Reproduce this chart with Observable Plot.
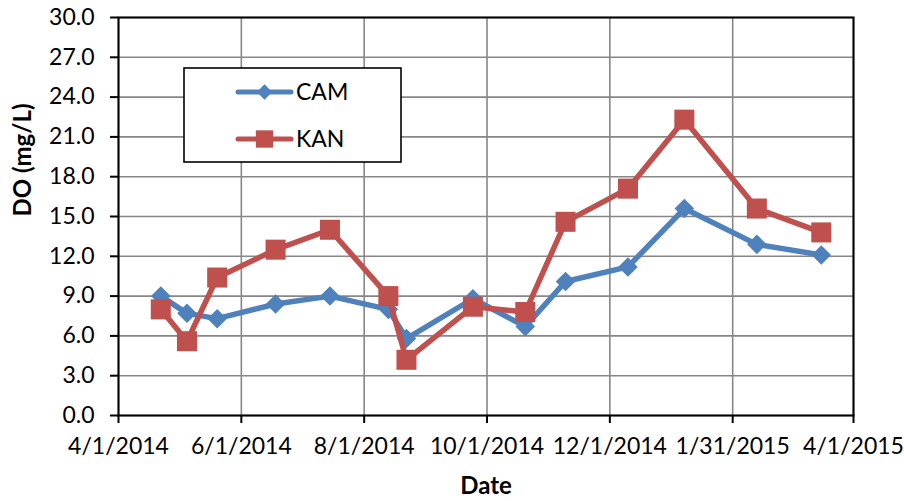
<!DOCTYPE html>
<html>
<head>
<meta charset="utf-8">
<script src="https://cdn.jsdelivr.net/npm/d3@7"></script>
<script src="https://cdn.jsdelivr.net/npm/@observablehq/plot@0.6"></script>
<style>
  html, body { margin: 0; padding: 0; background: white; }
  #chart { position: relative; width: 904px; height: 501px; }
</style>
</head>
<body>
<div id="chart"></div>
<script>
// ---- Data ----
const dates = ["2014-04-22","2014-05-05","2014-05-20","2014-06-18","2014-07-15","2014-08-13","2014-08-22",
               "2014-09-24","2014-10-20","2014-11-09","2014-12-10","2015-01-07","2015-02-12","2015-03-16"];
const camValues = [9.0, 7.7, 7.3, 8.4, 9.0, 8.0, 5.8, 8.8, 6.7, 10.1, 11.2, 15.6, 12.9, 12.1];
const kanValues = [8.0, 5.6, 10.4, 12.5, 14.0, 9.0, 4.2, 8.2, 7.8, 14.6, 17.1, 22.3, 15.6, 13.8];
const seriesNames = ["CAM", "KAN"];
const xTickLabels = ["2014-04-01","2014-06-01","2014-08-01","2014-10-01","2014-12-01","2015-01-31","2015-04-01"];
const yTicks = [0, 3, 6, 9, 12, 15, 18, 21, 24, 27, 30];
const xTitle = "Date";
const yTitle = "DO (mg/L)";

// ---- Build table ----
const parse = s => new Date(s + "T00:00:00Z");
const cam = dates.map((d, i) => ({date: parse(d), value: camValues[i], series: seriesNames[0]}));
const kan = dates.map((d, i) => ({date: parse(d), value: kanValues[i], series: seriesNames[1]}));
const xTicks = xTickLabels.map(parse);
const fmtDate = d => `${d.getUTCMonth() + 1}/${d.getUTCDate()}/${d.getUTCFullYear()}`;

const BLUE = "#4F81BD", RED = "#C0504D", GRID = "#878787";

const chart = Plot.plot({
  width: 904,
  height: 501,
  marginLeft: 118,
  marginRight: 51,
  marginTop: 17,
  marginBottom: 86,
  style: {fontFamily: "Lato, 'Open Sans', sans-serif", fontSize: "23px", color: "black", background: "white"},
  x: {type: "utc", domain: [xTicks[0], xTicks[xTicks.length - 1]]},
  y: {domain: [0, 30]},
  marks: [
    Plot.gridX(xTicks, {stroke: GRID, strokeOpacity: 1, strokeWidth: 1.6}),
    Plot.gridY(yTicks, {stroke: GRID, strokeOpacity: 1, strokeWidth: 1.6}),
    Plot.axisX({ticks: xTicks, tickFormat: fmtDate, tickSize: 8, tickPadding: 14, strokeWidth: 2, label: null}),
    Plot.axisY({ticks: yTicks, tickFormat: d3.format(".1f"), tickSize: 8, tickPadding: 16, strokeWidth: 2, label: null}),
    Plot.frame({stroke: "black", strokeWidth: 2}),
    Plot.line(cam, {x: "date", y: "value", stroke: BLUE, strokeWidth: 5.5, strokeLinejoin: "round", strokeLinecap: "round"}),
    Plot.dot(cam, {x: "date", y: "value", symbol: "diamond2", r: 8.8, fill: BLUE, stroke: "none"}),
    Plot.line(kan, {x: "date", y: "value", stroke: RED, strokeWidth: 5.5, strokeLinejoin: "round", strokeLinecap: "round"}),
    Plot.dot(kan, {x: "date", y: "value", symbol: "square", r: 11.3, fill: RED, stroke: "none"}),
    Plot.text([xTitle], {frameAnchor: "bottom", dy: 78, fontWeight: "bold", fontSize: 24}),
    Plot.text([yTitle], {frameAnchor: "left", dx: -95, rotate: -90, fontWeight: "bold", fontSize: 24})
  ]
});

// ---- Legend (drawn inside the SVG) ----
const svg = d3.select(chart);
const lg = svg.append("g").attr("class", "legend").attr("text-anchor", "start");
lg.append("rect").attr("x", 184).attr("y", 68).attr("width", 217).attr("height", 94)
  .attr("fill", "white").attr("stroke", "black").attr("stroke-width", 1.6);
const legendItems = [
  {name: seriesNames[0], color: BLUE, sym: d3.symbolDiamond2, size: 150, y: 92},
  {name: seriesNames[1], color: RED, sym: d3.symbolSquare, size: 300, y: 139}
];
for (const it of legendItems) {
  lg.append("line").attr("x1", 238).attr("x2", 291).attr("y1", it.y).attr("y2", it.y)
    .attr("stroke", it.color).attr("stroke-width", 5).attr("stroke-linecap", "round");
  lg.append("path").attr("d", d3.symbol(it.sym, it.size)()).attr("transform", `translate(264.5,${it.y})`)
    .attr("fill", it.color);
  lg.append("text").attr("x", 296).attr("y", it.y).attr("dy", "0.36em").attr("text-anchor", "start")
    .attr("font-size", 23).attr("fill", "black").text(it.name);
}

document.getElementById("chart").appendChild(chart);
</script>
</body>
</html>
